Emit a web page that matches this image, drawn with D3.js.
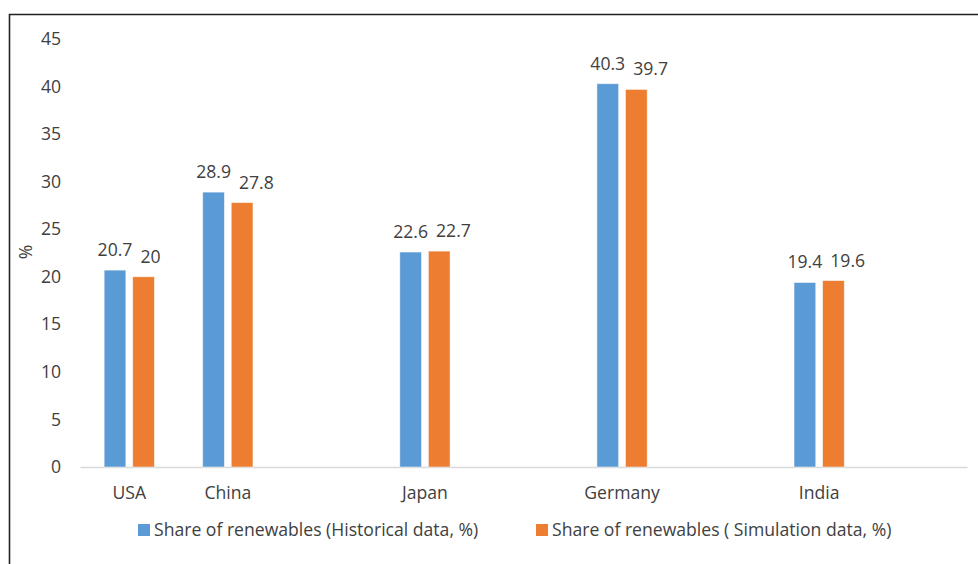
<!DOCTYPE html>
<html>
<head>
<meta charset="utf-8">
<script src="https://cdn.jsdelivr.net/npm/d3@7"></script>
<style>
  html, body { margin: 0; padding: 0; background: #fff; }
  svg { display: block; font-family: "Open Sans", Lato, sans-serif; }
</style>
</head>
<body>
<svg id="chart" width="978" height="564"></svg>
<script>
// Countries on the category axis (blank slots keep Excel-style spacing)
const categories = ["USA", "China", "", "Japan", "", "Germany", "", "India", ""];
// Share of renewables, % (null where a slot is empty)
const historical = [20.7, 28.9, null, 22.6, null, 40.3, null, 19.4, null];
const simulation = [20, 27.8, null, 22.7, null, 39.7, null, 19.6, null];
const yTicks = [0, 5, 10, 15, 20, 25, 30, 35, 40, 45];
const seriesNames = ["Share of renewables (Historical data, %)", "Share of renewables ( Simulation data, %)"];
const seriesColors = ["#5B9BD5", "#ED7D31"];

const svg = d3.select("#chart");
const W = 978, H = 564;
const plot = { left: 80, right: 967, top: 39, bottom: 467 };
const textColor = "#404040";
const fontSize = 17.6;
const fontFamily = "'Open Sans', sans-serif";

// chart frame
svg.append("path")
  .attr("d", `M9.5,${H} V14.5 H${W}`)
  .attr("fill", "none")
  .attr("stroke", "#222")
  .attr("stroke-width", 1.6);

const x = d3.scaleBand()
  .domain(d3.range(categories.length))
  .range([plot.left, plot.right])
  .paddingInner(0)
  .paddingOuter(0);

const y = d3.scaleLinear().domain([0, 45]).range([plot.bottom, plot.top]);

const groupW = x.bandwidth() * 0.51;
const x1 = d3.scaleBand().domain([0, 1]).range([0, groupW]).paddingInner(0.24).paddingOuter(0);
const barCenter = (i, s) => x(i) + (x.bandwidth() - groupW) / 2 + x1(s) + x1.bandwidth() / 2;

// y axis labels
const yAxis = d3.axisLeft(y).tickValues(yTicks).tickSize(0).tickPadding(19);
const gy = svg.append("g").attr("transform", `translate(${plot.left},0)`).call(yAxis);
gy.select(".domain").remove();
gy.selectAll("text").attr("fill", textColor).attr("font-size", fontSize).attr("font-family", fontFamily);

// y axis title
svg.append("text")
  .attr("transform", `translate(32,252) rotate(-90)`)
  .attr("text-anchor", "middle")
  .attr("fill", textColor)
  .attr("font-size", fontSize)
  .text("%");

// x axis
const xAxis = d3.axisBottom(x).tickFormat(i => categories[i]).tickSize(0).tickPadding(20);
const gx = svg.append("g").attr("transform", `translate(0,${plot.bottom})`).call(xAxis);
gx.select(".domain").attr("stroke", "#d9d9d9").attr("stroke-width", 1.5);
gx.selectAll("text").attr("fill", textColor).attr("font-size", fontSize).attr("font-family", fontFamily);

// bars and value labels
const series = [historical, simulation];
const labelGroups = [];
series.forEach((vals, s) => {
  const g = svg.append("g");
  const rows = vals.map((v, i) => ({ v, i })).filter(d => d.v !== null);
  g.selectAll("rect").data(rows).join("rect")
    .attr("x", d => x(d.i) + (x.bandwidth() - groupW) / 2 + x1(s))
    .attr("y", d => y(d.v))
    .attr("width", x1.bandwidth())
    .attr("height", d => y(0) - y(d.v))
    .attr("fill", seriesColors[s])
    .attr("stroke", "#fff")
    .attr("stroke-opacity", 0.6)
    .attr("stroke-width", 0.8);
  labelGroups.push(g.selectAll("text").data(rows).join("text")
    .attr("x", d => barCenter(d.i, s))
    .attr("y", d => y(d.v) - 14)
    .attr("text-anchor", "middle")
    .attr("fill", textColor)
    .attr("font-size", fontSize)
    .text(d => d.v));
});

// push second-series labels right when they would collide with the first
const labelGap = 8;
const firstRight = {};
labelGroups[0].each(function (d) {
  firstRight[d.i] = barCenter(d.i, 0) + this.getComputedTextLength() / 2;
});
labelGroups[1].each(function (d) {
  const w = this.getComputedTextLength();
  const cx = barCenter(d.i, 1);
  const left = Math.max(cx - w / 2, firstRight[d.i] + labelGap);
  d3.select(this).attr("x", left + w / 2);
});

// legend
const legendItems = [
  { x: 138, name: seriesNames[0], color: seriesColors[0] },
  { x: 536, name: seriesNames[1], color: seriesColors[1] }
];
const lg = svg.append("g").selectAll("g").data(legendItems).join("g")
  .attr("transform", d => `translate(${d.x},530)`);
lg.append("rect").attr("x", 0).attr("y", -6).attr("width", 12).attr("height", 12).attr("fill", d => d.color);
lg.append("text").attr("x", 16).attr("y", 6).attr("fill", textColor).attr("font-size", fontSize).text(d => d.name);
</script>
</body>
</html>
